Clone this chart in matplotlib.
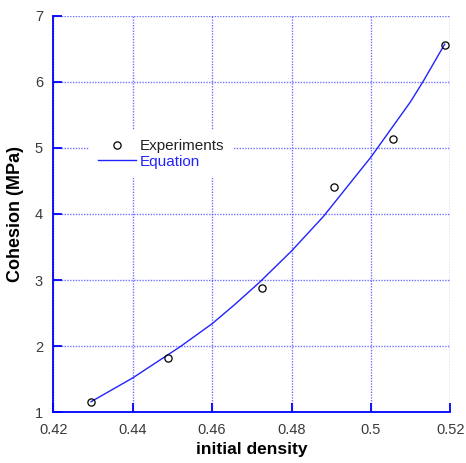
import matplotlib
matplotlib.use("Agg")
import matplotlib.pyplot as plt

# experimental points
exp_density = [0.4294, 0.4490, 0.4726, 0.4906, 0.5056, 0.5187]
exp_cohesion = [1.16, 1.817, 2.885, 4.413, 5.135, 6.552]

# fitted equation
eq_density = [0.4295, 0.44, 0.4519, 0.46, 0.4657, 0.472, 0.48, 0.488, 0.50, 0.51, 0.5131, 0.5186]
eq_cohesion = [1.16, 1.52, 1.99, 2.34, 2.63, 2.97, 3.44, 3.96, 4.86, 5.70, 6.0, 6.57]

x_ticks = [0.42, 0.44, 0.46, 0.48, 0.50, 0.52]
x_tick_labels = ["0.42", "0.44", "0.46", "0.48", "0.5", "0.52"]
y_ticks = [1, 2, 3, 4, 5, 6, 7]

plt.rcParams["font.family"] = ["Liberation Sans", "DejaVu Sans"]

BLUE = "#0000ff"

fig = plt.figure(figsize=(4.66, 4.63), dpi=100)
ax = fig.add_axes([0.1144, 0.1095, 0.8519, 0.8566])

ax.plot(exp_density, exp_cohesion, linestyle="none", marker="o", markersize=5.2,
        markerfacecolor="none", markeredgecolor="black", markeredgewidth=0.9,
        label="Experiments", zorder=4)
ax.plot(eq_density, eq_cohesion, color="#2222ff", linewidth=1.0, label="Equation", zorder=3)

ax.set_xlim(0.42, 0.52)
ax.set_ylim(1, 7)
ax.set_xticks(x_ticks)
ax.set_xticklabels(x_tick_labels)
ax.set_yticks(y_ticks)

ax.grid(True, color="#4444ff", linestyle=(0, (1, 1)), linewidth=1.0, alpha=0.75)
ax.set_axisbelow(True)

for side in ("top", "right"):
    ax.spines[side].set_visible(False)
for side in ("left", "bottom"):
    ax.spines[side].set_color(BLUE)
    ax.spines[side].set_linewidth(1.3)

ax.tick_params(axis="both", direction="in", length=6.5, width=1.3, color=BLUE,
               labelsize=10.5, labelcolor="#3a3a3a")
ax.tick_params(axis="x", pad=8)
ax.tick_params(axis="y", pad=7.5)

ax.set_xlabel("initial density", fontsize=12.5, fontweight="bold", labelpad=3)
ax.set_ylabel("Cohesion (MPa)", fontsize=13, fontweight="bold", labelpad=8)

leg = ax.legend(loc="upper left", bbox_to_anchor=(0.09, 0.712), borderaxespad=0,
                fontsize=11, frameon=True, fancybox=False, framealpha=1,
                facecolor="white", edgecolor="white", handlelength=2.5,
                handletextpad=0.25, labelspacing=0.1, borderpad=0.6)
leg.get_frame().set_linewidth(0)
leg.get_texts()[0].set_color("#222222")
leg.get_texts()[1].set_color("#2222ff")

fig.savefig("out.png", dpi=100)
